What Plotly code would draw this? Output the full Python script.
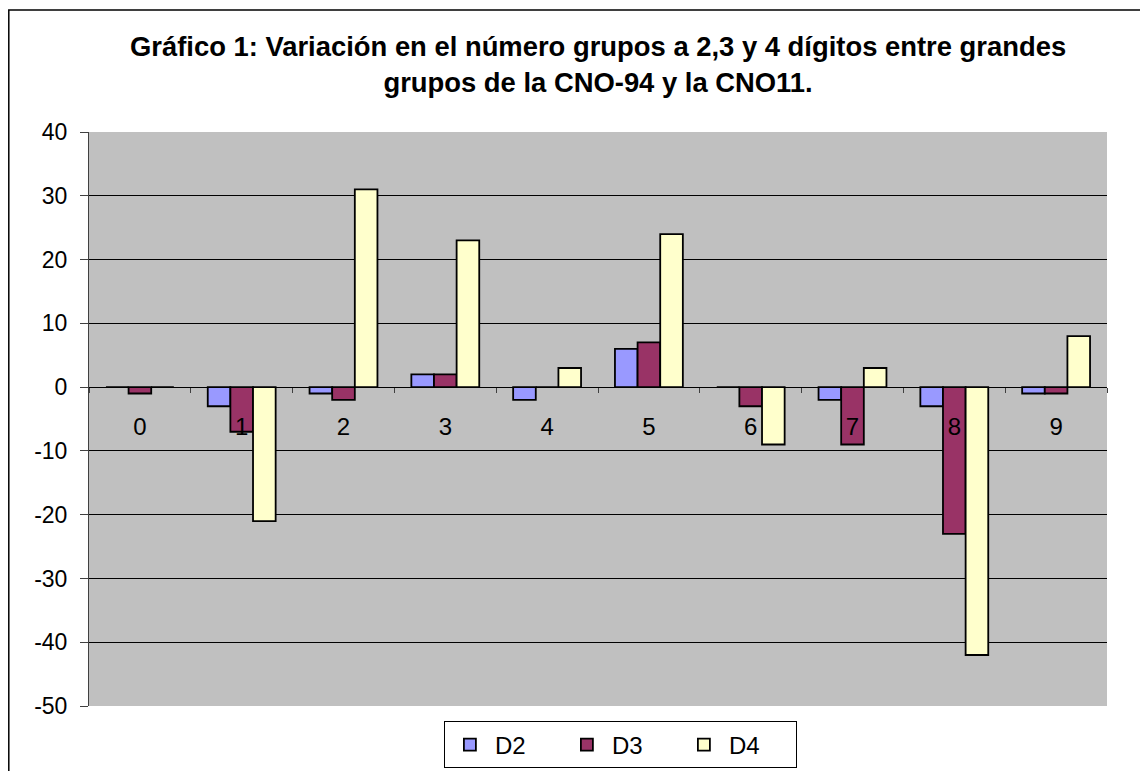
import plotly.graph_objects as go

categories = ["0", "1", "2", "3", "4", "5", "6", "7", "8", "9"]
d2 = [0, -3, -1, 2, -2, 6, 0, -2, -3, -1]
d3 = [-1, -7, -2, 2, 0, 7, -3, -9, -23, -1]
d4 = [0, -21, 31, 23, 3, 24, -9, 3, -42, 8]
y_ticks = [-50, -40, -30, -20, -10, 0, 10, 20, 30, 40]
y_ticktext = [str(v) for v in y_ticks]
title_line1 = "Gráfico 1: Variación en el número grupos a 2,3 y 4 dígitos entre grandes"
title_line2 = "grupos de la CNO-94 y la CNO11."

series = [("D2", d2, "#9999FF"), ("D3", d3, "#993366"), ("D4", d4, "#FFFFCC")]

fig = go.Figure()
for name, vals, col in series:
    fig.add_trace(go.Bar(
        x=categories, y=vals, name=name,
        marker=dict(color=col, line=dict(color="black", width=1.8)),
    ))

FONT = "Arial, Liberation Sans, sans-serif"
W, H = 1140, 763
L, T, PW, PH = 81, 124, 1018, 574
fig.update_layout(
    width=W, height=H,
    margin=dict(l=L, r=W - L - PW, t=T, b=H - T - PH, autoexpand=False),
    paper_bgcolor="white",
    plot_bgcolor="#C0C0C0",
    barmode="group",
    bargap=0.333,
    bargroupgap=0,
    font=dict(family=FONT, size=24, color="black"),
    showlegend=True,
    legend=dict(
        orientation="h",
        x=0.522, xanchor="center",
        y=-0.027, yanchor="top",
        bordercolor="black", borderwidth=1,
        bgcolor="white",
        font=dict(size=24),
        entrywidth=62,
        itemwidth=40,
        tracegroupgap=0,
    ),
    xaxis=dict(
        type="category",
        anchor="free", position=50 / 90,
        showline=True, linecolor="black", linewidth=1,
        ticks="outside", tickson="boundaries", ticklen=5, tickcolor="#404040",
        ticklabelstandoff=18,
        showgrid=False,
        tickfont=dict(size=24),
    ),
    yaxis=dict(
        range=[-50, 40],
        tickvals=y_ticks,
        ticktext=y_ticktext,
        showline=True, linecolor="#404040", linewidth=1,
        ticks="outside", ticklen=8, tickcolor="#404040",
        ticklabelstandoff=8,
        showgrid=True, gridcolor="black", gridwidth=1,
        zeroline=True, zerolinecolor="black", zerolinewidth=1,
        tickfont=dict(size=23),
    ),
    annotations=[dict(
        text="<b>" + title_line1 + "</b><br><b>" + title_line2 + "</b>",
        xref="paper", yref="paper", x=0.5, y=(T + PH - 57) / PH,
        xanchor="center", yanchor="middle", showarrow=False,
        font=dict(size=27.4, family=FONT),
    )],
    shapes=[dict(
        type="rect", xref="paper", yref="paper",
        x0=(0.8 - L) / PW, x1=1.2, y0=-0.3, y1=(T + PH - 2) / PH,
        line=dict(color="black", width=1.5), fillcolor="rgba(0,0,0,0)",
        layer="below",
    )],
)

fig.write_html("out.html")
